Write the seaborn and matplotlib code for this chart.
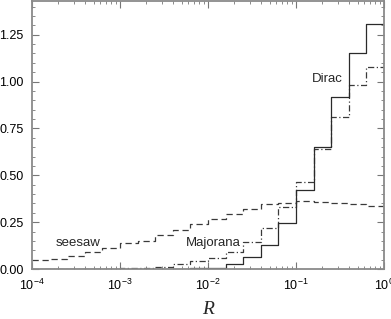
import numpy as np
import pandas as pd
import matplotlib
matplotlib.use("Agg")
import matplotlib.pyplot as plt
import matplotlib.ticker as mticker
import seaborn as sns

# bin edges in log10(R), 0.2 decade wide
log_edges = np.arange(-4.0, 0.01, 0.2)

seesaw = [0.048, 0.055, 0.071, 0.092, 0.110, 0.137, 0.152, 0.180, 0.208, 0.238,
          0.265, 0.292, 0.319, 0.346, 0.354, 0.363, 0.356, 0.351, 0.346, 0.338]
majorana = [0.0, 0.0, 0.0, 0.0, 0.0, 0.004, 0.006, 0.010, 0.027, 0.043,
            0.057, 0.092, 0.145, 0.220, 0.333, 0.466, 0.640, 0.810, 0.980, 1.080]
dirac = [0.0, 0.0, 0.0, 0.0, 0.0, 0.0, 0.0, 0.0, 0.001, 0.003,
         0.008, 0.027, 0.064, 0.130, 0.247, 0.422, 0.653, 0.917, 1.152, 1.307]

series = {"seesaw": seesaw, "Majorana": majorana, "Dirac": dirac}
styles = {"seesaw": (0, (5, 3)), "Majorana": (0, (5, 2, 1, 2)), "Dirac": "-"}
colors = {"seesaw": "#3a3a3a", "Majorana": "#3a3a3a", "Dirac": "#2a2a2a"}

sns.set_theme(style="ticks")
plt.rcParams["font.family"] = ["Liberation Sans", "DejaVu Sans"]
plt.rcParams["mathtext.fontset"] = "custom"
plt.rcParams["mathtext.rm"] = "Liberation Sans"
plt.rcParams["mathtext.it"] = "Liberation Sans:italic"

fig = plt.figure(figsize=(3.91, 3.19), dpi=100)
ax = fig.add_axes([32 / 391, 1 - 269 / 319, 352 / 391, 268 / 319])

for name, vals in series.items():
    df = pd.DataFrame({
        "R": 10 ** log_edges,
        "value": list(vals) + [vals[-1]],
    })
    sns.lineplot(data=df, x="R", y="value", ax=ax, drawstyle="steps-post",
                 color=colors[name], linestyle=styles[name], linewidth=0.9,
                 estimator=None, sort=True)

ax.set_xscale("log")
ax.set_xlim(1e-4, 1)
ax.set_ylim(0, 1.43)
ax.set_yticks([0, 0.25, 0.5, 0.75, 1.0, 1.25])
ax.yaxis.set_major_formatter(mticker.FormatStrFormatter("%.2f"))
ax.yaxis.set_minor_locator(mticker.MultipleLocator(0.05))
ax.xaxis.set_major_locator(mticker.LogLocator(base=10, numticks=10))
ax.xaxis.set_minor_locator(mticker.LogLocator(base=10, subs=np.arange(2, 10), numticks=20))
ax.xaxis.set_minor_formatter(mticker.NullFormatter())

ax.tick_params(which="both", direction="in", top=True, right=True,
               colors="#777777", labelcolor="black", labelsize=9)
ax.tick_params(which="major", length=5, width=0.8, pad=6)
ax.tick_params(which="minor", length=2.5, width=0.6)
for sp in ax.spines.values():
    sp.set_color("#8a8a8a")
    sp.set_linewidth(1.3)

ax.set_ylabel("")
ax.set_xlabel("R", fontfamily="Liberation Serif", fontstyle="italic", fontsize=14, labelpad=6)

ax.text(0.34, 1.015, "Dirac", fontsize=9.5, ha="right", va="center")
ax.text(0.0115, 0.139, "Majorana", fontsize=9.5, ha="center", va="center")
ax.text(0.00033, 0.139, "seesaw", fontsize=9.5, ha="center", va="center")

fig.savefig("out.png", dpi=100)
